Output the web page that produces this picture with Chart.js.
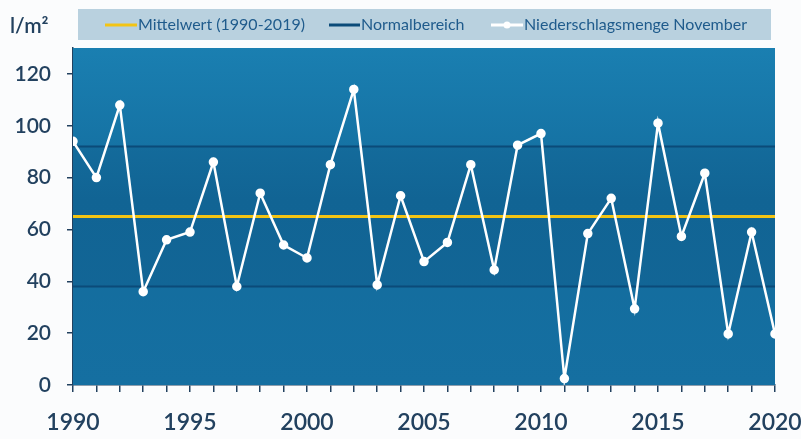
<!DOCTYPE html>
<html>
<head>
<meta charset="utf-8">
<script src="https://cdn.jsdelivr.net/npm/chart.js@4/dist/chart.umd.min.js"></script>
<style>
  html, body { margin: 0; padding: 0; background: #fbfcfd; }
  #wrap { width: 801px; height: 439px; position: relative; }
</style>
</head>
<body>
<div id="wrap"><canvas id="c" width="801" height="439"></canvas></div>
<script>
// ---- data ----
const years = [1990, 1991, 1992, 1993, 1994, 1995, 1996, 1997, 1998, 1999,
               2000, 2001, 2002, 2003, 2004, 2005, 2006, 2007, 2008, 2009,
               2010, 2011, 2012, 2013, 2014, 2015, 2016, 2017, 2018, 2019, 2020];
const precipitation = [94, 80, 108, 36, 56, 59, 86, 38, 74, 54,
                       49, 85, 114, 38.6, 73, 47.6, 55, 85, 44.4, 92.5,
                       97, 2.5, 58.4, 72, 29.4, 101, 57.3, 81.7, 19.7, 59, 19.7];
const meanValue = 65;
const normalLow = 38;
const normalHigh = 92;
const xTickLabels = ['1990', '1995', '2000', '2005', '2010', '2015', '2020'];
const yTickValues = [0, 20, 40, 60, 80, 100, 120];
const legendLabels = ['Mittelwert (1990-2019)', 'Normalbereich', 'Niederschlagsmenge November'];
const unitLabel = 'l/m²';

// ---- colours ----
const C_WHITE = '#ffffff';
const C_YELLOW = '#f3c414';
const C_NORM = '#0b4b79';
const C_TEXT = '#22415f';
const C_LEGEND_TEXT = '#1f5b8c';

const xMin = years[0], xMax = years[years.length - 1];
const series = years.map((y, i) => ({ x: y, y: precipitation[i] }));
const flat = v => [{ x: xMin, y: v }, { x: xMax, y: v }];

const backgroundPlugin = {
  id: 'bg',
  beforeDatasetsDraw(chart) {
    const { ctx, chartArea: a, scales } = chart;
    const y = scales.y;
    ctx.save();
    const g = ctx.createLinearGradient(0, a.top, 0, a.bottom);
    g.addColorStop(0, '#1a7fb1');
    g.addColorStop(0.45, '#136c9d');
    g.addColorStop(1, '#156fa1');
    ctx.fillStyle = g;
    ctx.fillRect(a.left, a.top, a.right - a.left, a.bottom - a.top);
    const yh = y.getPixelForValue(normalHigh), yl = y.getPixelForValue(normalLow);
    ctx.fillStyle = 'rgba(8,50,90,0.12)';
    ctx.fillRect(a.left, yh, a.right - a.left, yl - yh);
    ctx.restore();
  },
  afterDraw(chart) {
    const { ctx } = chart;
    ctx.save();
    // unit label
    ctx.fillStyle = C_TEXT;
    ctx.font = '600 21px Lato';
    ctx.textBaseline = 'middle';
    ctx.textAlign = 'left';
    ctx.fillText(unitLabel, 10, 26);
    // legend box
    ctx.fillStyle = '#b9d1df';
    ctx.fillRect(78, 9, 693, 31);
    ctx.font = '16px Lato';
    const items = [
      { x: 105, w: 32, color: C_YELLOW, dot: false },
      { x: 329, w: 31, color: C_NORM, dot: false },
      { x: 491, w: 32, color: C_WHITE, dot: true }
    ];
    items.forEach((it, i) => {
      ctx.strokeStyle = it.color;
      ctx.lineWidth = 3;
      ctx.beginPath();
      ctx.moveTo(it.x, 25);
      ctx.lineTo(it.x + it.w, 25);
      ctx.stroke();
      if (it.dot) {
        ctx.fillStyle = it.color;
        ctx.beginPath();
        ctx.arc(it.x + it.w / 2, 25, 3.5, 0, Math.PI * 2);
        ctx.fill();
      }
      ctx.fillStyle = C_LEGEND_TEXT;
      ctx.fillText(legendLabels[i], it.x + it.w + 1, 25);
    });
    ctx.restore();
  }
};

new Chart(document.getElementById('c'), {
  type: 'line',
  data: {
    datasets: [
      { label: legendLabels[2], data: series, borderColor: C_WHITE, backgroundColor: C_WHITE,
        borderWidth: 2.5, pointRadius: 3.5, pointHoverRadius: 3.5, tension: 0, order: 0 },
      { label: legendLabels[0], data: flat(meanValue), borderColor: C_YELLOW,
        borderWidth: 3, pointRadius: 0, order: 1 },
      { label: legendLabels[1], data: flat(normalHigh), borderColor: C_NORM,
        borderWidth: 2, pointRadius: 0, order: 2 },
      { label: legendLabels[1] + ' ', data: flat(normalLow), borderColor: C_NORM,
        borderWidth: 2, pointRadius: 0, order: 2 }
    ]
  },
  options: {
    responsive: false,
    animation: false,
    events: [],
    layout: { padding: { left: 0, right: 26, top: 48, bottom: 0 } },
    plugins: { legend: { display: false }, tooltip: { enabled: false }, title: { display: false } },
    scales: {
      x: {
        type: 'linear', min: xMin, max: xMax,
        afterFit: s => { s.height = 54; s.paddingLeft = 0; s.paddingRight = 0; },
        grid: { drawOnChartArea: false, drawTicks: true, tickLength: 7, color: C_TEXT, lineWidth: 1.5 },
        border: { display: true, color: C_TEXT, width: 1.5 },
        ticks: {
          stepSize: 1, autoSkip: false, maxRotation: 0, padding: 17,
          color: C_TEXT, font: { family: 'Lato', size: 23, weight: '600' },
          callback: v => xTickLabels.includes(String(v)) ? String(v) : ''
        }
      },
      y: {
        min: 0, max: 130,
        afterFit: s => { s.width = 73; s.paddingTop = 0; s.paddingBottom = 0; },
        grid: { drawOnChartArea: false, drawTicks: true, tickLength: 6, color: C_TEXT, lineWidth: 1.5 },
        border: { display: true, color: C_TEXT, width: 1.5 },
        ticks: {
          stepSize: 20, includeBounds: false, padding: 16,
          color: C_TEXT, font: { family: 'Lato', size: 21, weight: '600' },
          callback: v => yTickValues.includes(v) ? String(v) : ''
        }
      }
    }
  },
  plugins: [backgroundPlugin]
});
</script>
</body>
</html>
